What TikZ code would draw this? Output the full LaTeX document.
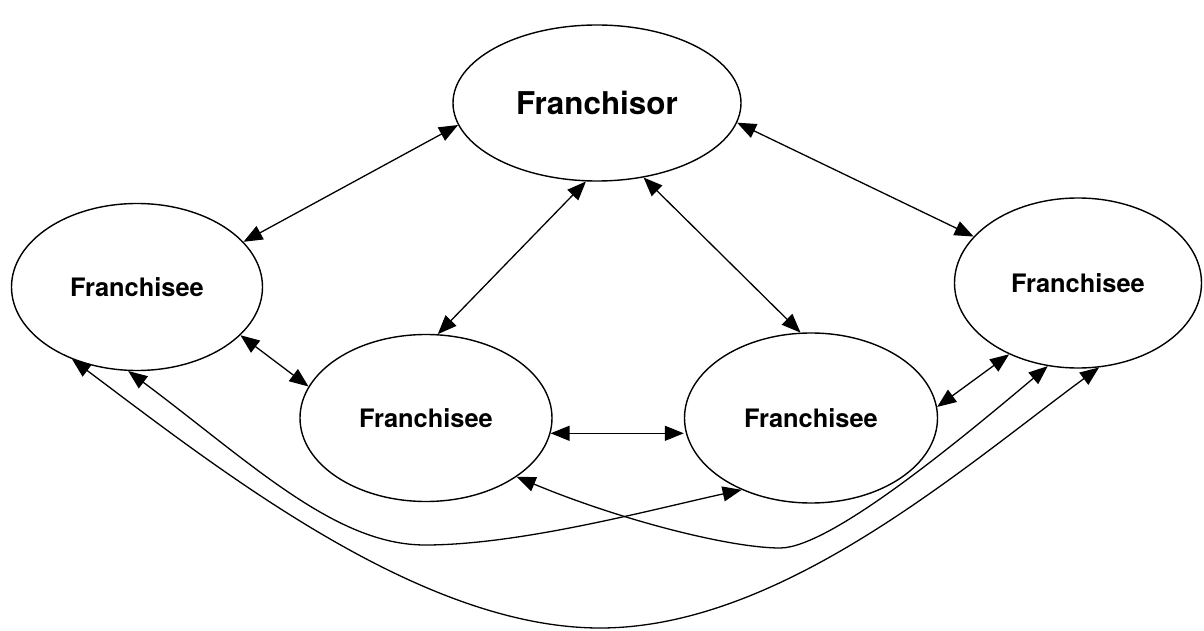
\documentclass[tikz,border=0pt]{standalone}
\usepackage{fontspec}
\setmainfont{TeX Gyre Heros}
\usetikzlibrary{shapes.geometric,arrows.meta}
\begin{document}
\begin{tikzpicture}[x=1bp,y=-1bp,
  party/.style={draw,ellipse,line width=1.4bp,inner sep=0pt,font=\bfseries\fontsize{25.5}{30}\selectfont},
  link/.style={line width=1.3bp,{Triangle[length=19bp,width=15bp]}-{Triangle[length=19bp,width=15bp]}}]
\useasboundingbox (0,0) rectangle (1204,631);
\node[party,minimum width=288bp,minimum height=156bp,font=\bfseries\fontsize{31.5}{36}\selectfont] (fr) at (597,103) {Franchisor};
\node[party,minimum width=251bp,minimum height=167bp] (fl) at (137,287) {Franchisee};
\node[party,minimum width=252bp,minimum height=167bp] (fml) at (426,418) {Franchisee};
\node[party,minimum width=253bp,minimum height=170bp] (fmr) at (811,418) {Franchisee};
\node[party,minimum width=247bp,minimum height=170bp] (frt) at (1078,283) {Franchisee};
% straight links
\draw[link] (fr.189.3) -- (fl.23.9);
\draw[link] (fr.262.9) -- (fml.82.6);
\draw[link] (fr.352.3) -- (frt.156.3);
\draw[link] (fr.302.3) -- (fmr.97.4);
\draw[link] (fl.335.2) -- (fml.165.5);
\draw[link] (fml.353.7) -- (fml.353.7 -| fmr.west);
\draw[link] (fmr.5) -- (frt.226.3);
% curved links
\coordinate (b1) at (600,628);
\coordinate (b2) at (425,545);
\coordinate (b3) at (780,548);
\draw[link] (fl.228.2) .. controls (220,470) and (420,628) .. (b1)
  .. controls (780,628) and (960,470) .. (frt.284.7);
\draw[link] (fl.264.3) .. controls (250,462) and (335,545) .. (b2)
  .. controls (520,545) and (650,510) .. (fmr.226.3);
\draw[link] (fml.327.1) .. controls (620,520) and (730,548) .. (b3)
  .. controls (830,548) and (960,440) .. (frt.250.4);
\end{tikzpicture}
\end{document}
